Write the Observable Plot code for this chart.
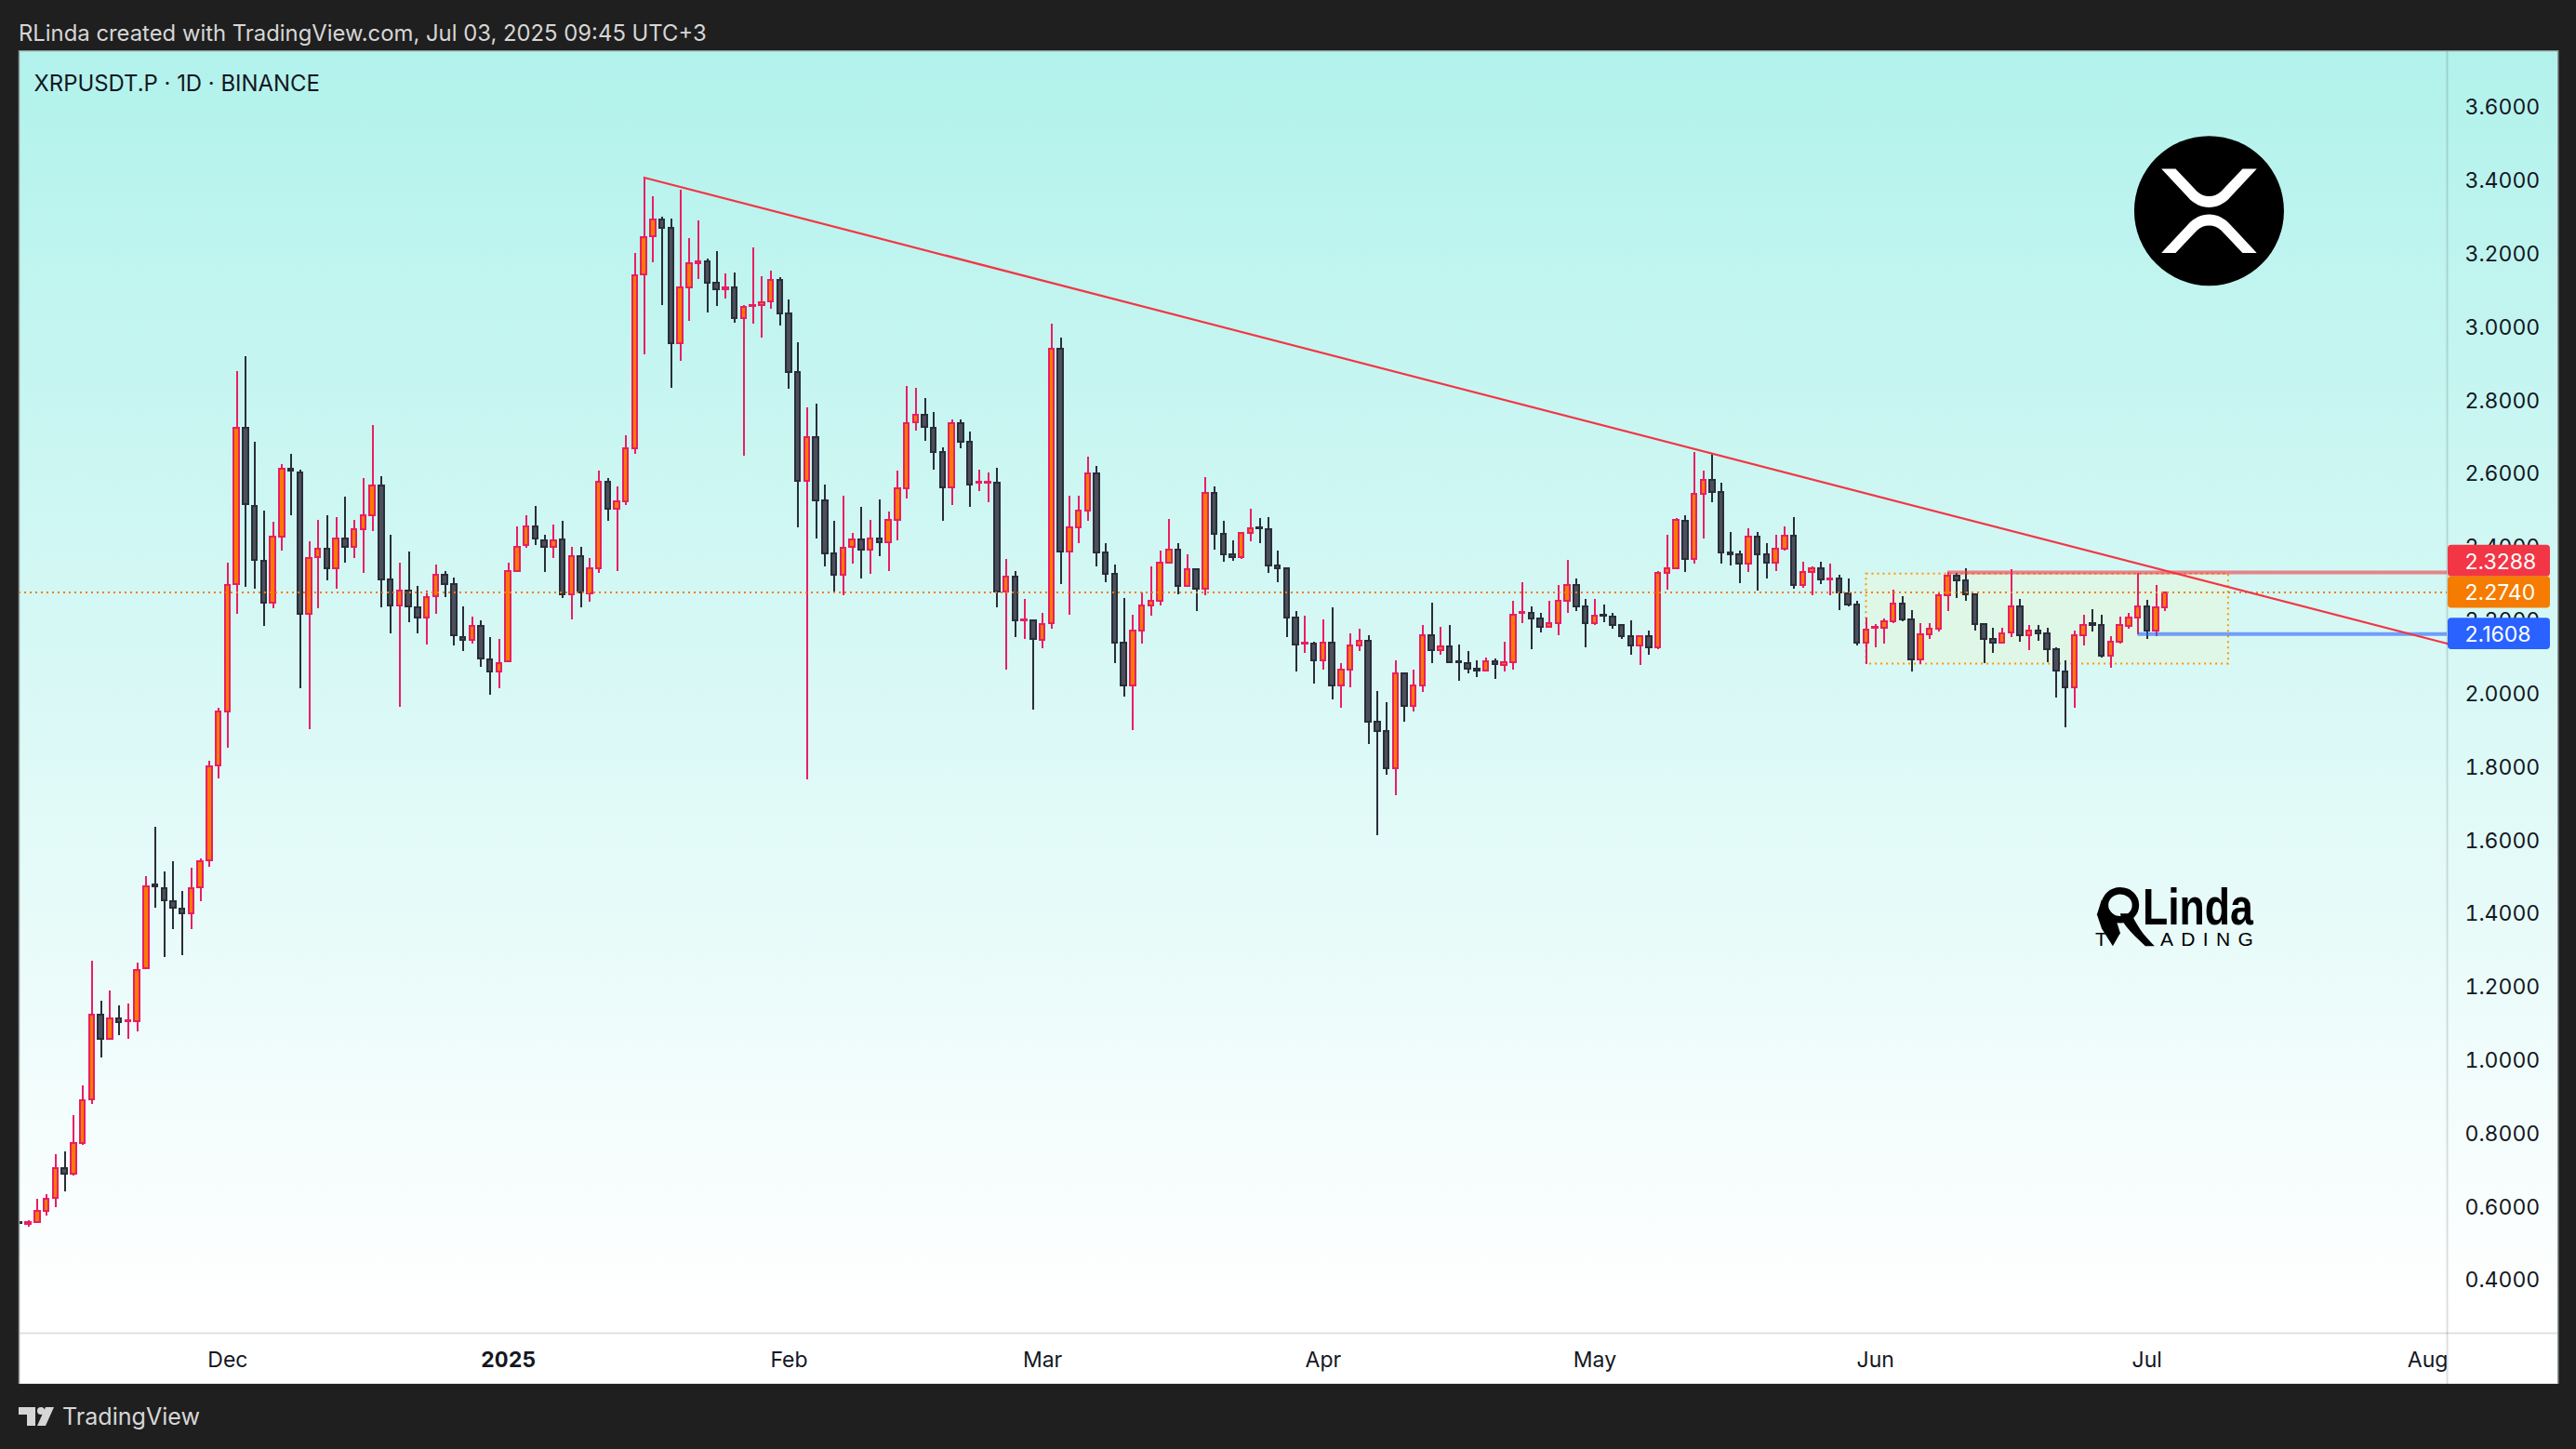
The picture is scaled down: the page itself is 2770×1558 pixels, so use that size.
<!DOCTYPE html>
<html>
<head>
<meta charset="utf-8">
<script src="https://cdn.jsdelivr.net/npm/d3@7"></script>
<script src="https://cdn.jsdelivr.net/npm/@observablehq/plot@0.6"></script>
<style>
html,body{margin:0;padding:0;background:#1f1f1f;overflow:hidden;font-family:Inter,sans-serif;}
#head{height:54px;line-height:72px;padding-left:20px;color:#d6d6d6;font-size:23.85px;box-sizing:border-box;white-space:nowrap;overflow:hidden;}
#foot{height:70px;display:flex;align-items:center;padding-left:20px;color:#d6d6d6;font-size:25.1px;box-sizing:border-box;}
#foot svg{margin-right:9px;}
figure{margin:0}
</style>
</head>
<body>
<div id="head">RLinda created with TradingView.com, Jul 03, 2025 09:45 UTC+3</div>
<div id="chart"></div>
<div id="foot"><svg width="38" height="20" viewBox="0 0 38 20"><path fill="#d6d6d6" d="M0 0H18V20H9V8H0Z"/><circle fill="#d6d6d6" cx="24" cy="4" r="4"/><path fill="#d6d6d6" d="M29 0H38L29 20H20Z"/></svg><span>TradingView</span></div>
<script>
const firstDay = "2024-11-08";
const opens = [
.555,.549,.556,.586,.620,.701,.688,.771,.891,1.120,
1.055,1.111,1.102,1.103,1.248,1.475,1.466,1.431,1.410,1.397,
1.468,1.543,1.802,1.949,2.295,2.722,2.510,2.358,2.246,2.426,
2.611,2.599,2.214,2.368,2.392,2.338,2.419,2.398,2.445,2.484,
2.564,2.308,2.238,2.277,2.233,2.204,2.262,2.321,2.295,2.152,
2.144,2.181,2.089,2.058,2.084,2.332,2.402,2.452,2.416,2.398,
2.417,2.268,2.372,2.270,2.339,2.575,2.502,2.521,2.667,3.140,
3.244,3.291,3.268,2.954,3.105,3.172,3.177,3.117,3.099,3.105,
3.021,3.055,3.056,3.066,3.126,3.034,2.874,2.578,2.696,2.524,
2.379,2.322,2.396,2.417,2.390,2.419,2.410,2.470,2.558,2.736,
2.757,2.723,2.657,2.560,2.735,2.684,2.571,2.571,2.571,2.275,
2.317,2.196,2.196,2.144,2.189,2.938,2.385,2.451,2.497,2.598,
2.382,2.323,2.135,2.019,2.169,2.238,2.250,2.355,2.389,2.291,
2.335,2.283,2.545,2.433,2.377,2.369,2.435,2.451,2.445,2.346,
2.339,2.204,2.133,2.133,2.087,2.135,2.019,2.062,2.128,2.141,
1.919,1.894,1.792,2.052,1.962,2.019,2.156,2.115,2.125,2.085,
2.080,2.064,2.059,2.084,2.074,2.082,2.217,2.217,2.202,2.179,
2.189,2.250,2.293,2.235,2.189,2.212,2.206,2.184,2.153,2.128,
2.153,2.123,2.326,2.340,2.468,2.364,2.542,2.580,2.547,2.382,
2.377,2.351,2.425,2.377,2.354,2.392,2.427,2.293,2.329,2.339,
2.308,2.312,2.271,2.240,2.135,2.176,2.177,2.194,2.242,2.198,
2.090,2.158,2.173,2.265,2.318,2.305,2.268,2.186,2.146,2.135,
2.163,2.234,2.156,2.168,2.162,2.118,2.058,2.013,2.156,2.190,
2.184,2.101,2.138,2.181,2.204,2.234,2.168,2.231];
const highs = [
.556,.560,.617,.632,.739,.747,.846,.927,1.267,1.158,
1.186,1.147,1.150,1.262,1.500,1.633,1.512,1.539,1.458,1.522,
1.547,1.813,1.957,2.355,2.876,2.917,2.685,2.497,2.465,2.622,
2.650,2.609,2.413,2.470,2.484,2.479,2.533,2.471,2.586,2.729,
2.591,2.429,2.355,2.385,2.291,2.277,2.350,2.332,2.314,2.235,
2.207,2.197,2.152,2.147,2.355,2.452,2.483,2.510,2.429,2.458,
2.468,2.398,2.396,2.367,2.604,2.584,2.563,2.701,3.199,3.406,
3.353,3.298,3.293,3.371,3.240,3.287,3.183,3.203,3.142,3.146,
3.056,3.214,3.135,3.151,3.132,3.071,2.955,2.779,2.787,2.568,
2.469,2.537,2.436,2.507,2.470,2.527,2.494,2.604,2.835,2.832,
2.804,2.764,2.668,2.744,2.746,2.713,2.609,2.599,2.613,2.363,
2.330,2.256,2.198,2.217,3.005,2.967,2.537,2.537,2.644,2.619,
2.408,2.350,2.258,2.213,2.272,2.344,2.388,2.474,2.408,2.377,
2.335,2.588,2.563,2.467,2.416,2.438,2.502,2.477,2.479,2.388,
2.341,2.223,2.210,2.139,2.200,2.233,2.080,2.162,2.174,2.157,
2.004,1.974,2.088,2.054,2.063,2.185,2.246,2.179,2.185,2.131,
2.113,2.088,2.096,2.093,2.139,2.251,2.301,2.235,2.218,2.249,
2.294,2.362,2.312,2.256,2.256,2.240,2.218,2.185,2.197,2.156,
2.169,2.332,2.429,2.477,2.484,2.655,2.604,2.651,2.571,2.439,
2.388,2.449,2.439,2.408,2.429,2.454,2.479,2.357,2.345,2.357,
2.352,2.321,2.311,2.251,2.205,2.187,2.201,2.280,2.263,2.225,
2.190,2.190,2.270,2.329,2.326,2.338,2.270,2.190,2.176,2.176,
2.337,2.255,2.183,2.185,2.176,2.122,2.088,2.168,2.213,2.228,
2.212,2.153,2.207,2.217,2.327,2.252,2.293,2.276];
const lows = [
.552,.543,.554,.572,.596,.638,.682,.766,.878,1.005,
1.053,1.066,1.055,1.076,1.246,1.413,1.278,1.355,1.283,1.353,
1.431,1.523,1.766,1.849,2.215,2.288,2.282,2.181,2.230,2.387,
2.484,2.011,1.901,2.230,2.306,2.282,2.355,2.366,2.325,2.440,
2.231,2.160,1.961,2.191,2.160,2.131,2.214,2.261,2.128,2.113,
2.133,2.069,1.993,2.011,2.082,2.329,2.395,2.402,2.329,2.366,
2.257,2.198,2.232,2.247,2.325,2.469,2.331,2.511,2.651,2.923,
3.174,3.056,2.831,2.905,3.014,3.129,3.037,3.055,3.075,3.009,
2.645,3.006,2.969,3.047,3.001,2.829,2.450,1.764,2.419,2.343,
2.274,2.264,2.351,2.310,2.323,2.371,2.331,2.415,2.528,2.714,
2.686,2.608,2.468,2.511,2.666,2.506,2.549,2.518,2.232,2.063,
2.150,2.145,1.952,2.120,2.173,2.295,2.211,2.407,2.468,2.343,
2.300,2.081,1.989,1.896,2.132,2.209,2.237,2.351,2.267,2.290,
2.221,2.264,2.389,2.356,2.358,2.363,2.412,2.407,2.325,2.300,
2.152,2.058,2.107,2.023,2.063,1.982,1.957,2.015,2.112,1.860,
1.611,1.776,1.720,1.919,1.947,2.002,2.079,2.102,2.081,2.033,
2.051,2.041,2.056,2.038,2.058,2.061,2.188,2.117,2.163,2.178,
2.155,2.216,2.221,2.122,2.185,2.191,2.175,2.147,2.104,2.076,
2.102,2.117,2.281,2.335,2.328,2.351,2.419,2.518,2.351,2.346,
2.297,2.329,2.279,2.312,2.330,2.386,2.282,2.285,2.265,2.295,
2.264,2.224,2.234,2.128,2.078,2.122,2.134,2.190,2.194,2.057,
2.078,2.147,2.165,2.221,2.257,2.251,2.169,2.079,2.107,2.135,
2.150,2.139,2.116,2.142,2.083,1.985,1.906,1.959,2.129,2.167,
2.094,2.066,2.132,2.173,2.158,2.145,2.154,2.223];
const closes = [
.553,.554,.585,.617,.701,.688,.770,.886,1.120,1.055,
1.110,1.100,1.105,1.243,1.471,1.471,1.432,1.413,1.397,1.466,
1.539,1.799,1.949,2.293,2.722,2.513,2.361,2.246,2.424,2.611,
2.604,2.214,2.366,2.392,2.338,2.419,2.398,2.445,2.483,2.564,
2.309,2.238,2.277,2.236,2.204,2.259,2.321,2.296,2.155,2.144,
2.181,2.092,2.058,2.081,2.330,2.398,2.452,2.419,2.398,2.416,
2.268,2.372,2.272,2.339,2.575,2.502,2.521,2.666,3.139,3.243,
3.291,3.268,2.954,3.104,3.172,3.177,3.119,3.099,3.105,3.021,
3.052,3.058,3.065,3.126,3.035,2.875,2.578,2.696,2.525,2.380,
2.322,2.394,2.417,2.390,2.419,2.410,2.470,2.557,2.735,2.757,
2.725,2.657,2.560,2.735,2.685,2.568,2.575,2.575,2.275,2.317,
2.197,2.198,2.145,2.187,2.938,2.385,2.450,2.495,2.598,2.382,
2.324,2.136,2.019,2.168,2.237,2.249,2.354,2.389,2.291,2.335,
2.283,2.544,2.433,2.377,2.368,2.435,2.448,2.448,2.346,2.339,
2.204,2.130,2.135,2.087,2.135,2.019,2.062,2.128,2.141,1.919,
1.894,1.792,2.052,1.962,2.019,2.156,2.115,2.125,2.082,2.082,
2.064,2.059,2.084,2.077,2.082,2.212,2.219,2.202,2.179,2.189,
2.250,2.293,2.235,2.189,2.209,2.209,2.184,2.153,2.128,2.153,
2.123,2.326,2.340,2.470,2.364,2.542,2.580,2.547,2.382,2.377,
2.351,2.424,2.377,2.354,2.391,2.427,2.293,2.328,2.339,2.308,
2.312,2.272,2.240,2.135,2.171,2.179,2.194,2.242,2.198,2.090,
2.158,2.173,2.265,2.318,2.305,2.268,2.186,2.146,2.135,2.162,
2.234,2.156,2.168,2.160,2.118,2.059,2.013,2.155,2.185,2.185,
2.101,2.138,2.184,2.204,2.234,2.168,2.231,2.274];

const priceTicks = [0.4,0.6,0.8,1.0,1.2,1.4,1.6,1.8,2.0,2.2,2.4,2.6,2.8,3.0,3.2,3.4,3.6];
const monthTicks = ["2024-12-01","2025-02-01","2025-03-01","2025-04-01","2025-05-01","2025-06-01","2025-07-01","2025-08-01"];
const yearTicks = ["2025-01-01"];

const lastPrice = 2.274, sellLevel = 2.3288, buyLevel = 2.1608;
const trendTime = ["2025-01-16","2025-08-03T03:36Z"], trendPrice = [3.406,2.1345];
const zoneTime = ["2025-05-31","2025-07-10"], zonePrice = [2.0786,2.3242];
const sellFrom = "2025-06-09", buyFrom = "2025-06-30";
const badgePrice = [2.3598,2.274,2.1608], badgeText = ["2.3288","2.2740","2.1608"], badgeFill = ["#f23645","#f57c00","#2962ff"];

const T = s => new Date(s);
const timeLeft = T("2024-11-07T22:48Z"), timeEdge = T("2025-08-03T03:36Z"), timeFrame = T("2025-08-15T09:36Z");
const badgeFrom = T("2025-08-03T06:00Z"), badgeTo = T("2025-08-14T13:12Z"), badgeLabelAt = T("2025-08-05T02:24Z");
const priceBottom = 0.2528, priceTop = 3.7523, priceFrameBottom = 0.1132, badgeHalf = 0.0431;
const halfBar = 0.28 * 864e5;

const start = T(firstDay);
const candles = opens.map((o,i)=>({date:new Date(+start + i*864e5),o,h:highs[i],l:lows[i],c:closes[i]}));
const up = candles.filter(d=>d.c>=d.o);
const down = candles.filter(d=>d.c<d.o);
const wickUp="#e91e63", bodyUp="#f97a00", wickDown="#2a2e39", bodyDown="#4c505c";

const bars = (rows,fill,stroke)=>[
  Plot.ruleX(rows,{x:"date",y1:"l",y2:"h",stroke,strokeWidth:2,shapeRendering:"crispEdges",clip:true}),
  Plot.rect(rows,{x1:d=>new Date(+d.date-halfBar),x2:d=>new Date(+d.date+halfBar),y1:"o",y2:"c",fill,stroke,strokeWidth:2,shapeRendering:"crispEdges",clip:true})
];

const emblem = (index,{x,y})=>{
  const g = d3.create("svg:g").attr("text-anchor","start");
  const cx = x(T("2025-07-07T21:36Z")), cy = y(3.3141);
  const e = g.append("g").attr("transform",`translate(${cx},${cy})`);
  e.append("circle").attr("r",80.5).attr("fill","#000");
  const glyph="M-51.3-45.3L-36-45.3L-13-21C-6-14 6-14 13-21L36-45.3L51.3-45.3L23-15C10 0-10 0-23-15Z";
  e.append("path").attr("d",glyph).attr("fill","#fff");
  e.append("path").attr("d",glyph).attr("fill","#fff").attr("transform","scale(1,-1)");
  const bx = x(T("2025-07-04T06:00Z")), by = y(1.351);
  const b = g.append("g").attr("transform",`translate(${bx},${by})`).attr("fill","#000");
  b.append("ellipse").attr("cx",-60).attr("cy",-27).attr("rx",16.5).attr("ry",15.5).attr("fill","none").attr("stroke","#000").attr("stroke-width",7.5);
  b.append("path").attr("d","M-80-33L-85-17L-80-2L-68 17L-60 3L-65-13Z");
  b.append("path").attr("d","M-60-18L-48-18C-40 0-30 10-23 17L-33 17C-45 5-58-5-60-18Z");
  b.append("text").attr("x",-36).attr("y",-6).attr("font-family","Liberation Sans").attr("font-weight",700).attr("font-size",56).attr("textLength",119).attr("lengthAdjust","spacingAndGlyphs").text("Linda");
  b.append("text").attr("x",-87).attr("y",17).attr("font-family","Liberation Sans").attr("font-size",21).text("T");
  b.append("text").attr("x",-17).attr("y",17).attr("font-family","Liberation Sans").attr("font-size",21).attr("textLength",100).attr("lengthAdjust","spacing").text("ADING");
  return g.node();
};

const chart = Plot.plot({
  width:2770, height:1434,
  marginLeft:20, marginRight:139, marginTop:0, marginBottom:55,
  x:{type:"utc",domain:[timeLeft,timeEdge],axis:null},
  y:{type:"linear",domain:[priceBottom,priceTop],axis:null},
  style:{
    fontFamily:"Inter, sans-serif",
    backgroundColor:"#1f1f1f",
    backgroundImage:"linear-gradient(to bottom,#b2f2ec 0,#ffffff 1350px)",
    backgroundSize:"2730px 100%",
    backgroundPosition:"20px 0",
    backgroundRepeat:"no-repeat",
    color:"#131722"
  },
  marks:[
    Plot.rect([0],{x1:()=>T(zoneTime[0]),x2:()=>T(zoneTime[1]),y1:()=>zonePrice[0],y2:()=>zonePrice[1],fill:"#e3f6df",fillOpacity:0.7,stroke:"#ff9800",strokeWidth:2,strokeDasharray:"2 4"}),
    ...bars(up,bodyUp,wickUp),
    ...bars(down,bodyDown,wickDown),
    Plot.ruleY([lastPrice],{x1:timeLeft,x2:timeEdge,stroke:"#f57c00",strokeWidth:2,strokeDasharray:"2 4"}),
    Plot.ruleY([sellLevel],{x1:T(sellFrom),x2:timeEdge,stroke:"#f23645",strokeOpacity:0.6,strokeWidth:4}),
    Plot.ruleY([buyLevel],{x1:T(buyFrom),x2:timeEdge,stroke:"#2962ff",strokeOpacity:0.6,strokeWidth:4}),
    Plot.line(trendTime.map((t,i)=>({t:T(t),p:trendPrice[i]})),{x:"t",y:"p",stroke:"#f23645",strokeWidth:2.2}),
    Plot.ruleX([timeEdge],{y1:priceFrameBottom,y2:priceTop,stroke:"#000",strokeOpacity:0.13,strokeWidth:2}),
    Plot.ruleY([priceBottom],{x1:timeLeft,x2:timeFrame,stroke:"#000",strokeOpacity:0.12,strokeWidth:2}),
    Plot.ruleX([timeLeft],{y1:priceFrameBottom,y2:priceTop,stroke:"#8a9494",strokeWidth:1.5}),
    Plot.ruleX([timeFrame],{y1:priceFrameBottom,y2:priceTop,stroke:"#8a9494",strokeWidth:1.5}),
    Plot.ruleY([priceTop],{x1:timeLeft,x2:timeFrame,stroke:"#8a9494",strokeWidth:1.5}),
    Plot.ruleY([priceFrameBottom],{x1:timeLeft,x2:timeFrame,stroke:"#8a9494",strokeWidth:1.5}),
    Plot.axisY({anchor:"right",ticks:priceTicks,tickFormat:d=>d.toFixed(4),tickSize:0,tickPadding:19,dy:1.5,fontSize:23,fill:"#131722",label:null}),
    Plot.axisX({anchor:"bottom",ticks:monthTicks.map(T),tickFormat:d3.utcFormat("%b"),tickSize:0,tickPadding:20,fontSize:23,fill:"#131722",label:null}),
    Plot.axisX({anchor:"bottom",ticks:yearTicks.map(T),tickFormat:d3.utcFormat("%Y"),tickSize:0,tickPadding:20,fontSize:23,fontWeight:700,fill:"#131722",label:null}),
    Plot.rect(badgePrice,{x1:badgeFrom,x2:badgeTo,y1:d=>d-badgeHalf,y2:d=>d+badgeHalf,fill:(d,i)=>badgeFill[i],rx:4}),
    Plot.text(badgePrice,{x:badgeLabelAt,y:d=>d,dy:1,text:(d,i)=>badgeText[i],fill:"#fff",fontSize:23,textAnchor:"start"}),
    Plot.text(["XRPUSDT.P · 1D · BINANCE"],{frameAnchor:"top-left",dx:16,dy:36,lineAnchor:"middle",textAnchor:"start",fontSize:23.9,fill:"#131722"}),
    emblem
  ]
});
document.getElementById("chart").appendChild(chart);
</script>
</body>
</html>
